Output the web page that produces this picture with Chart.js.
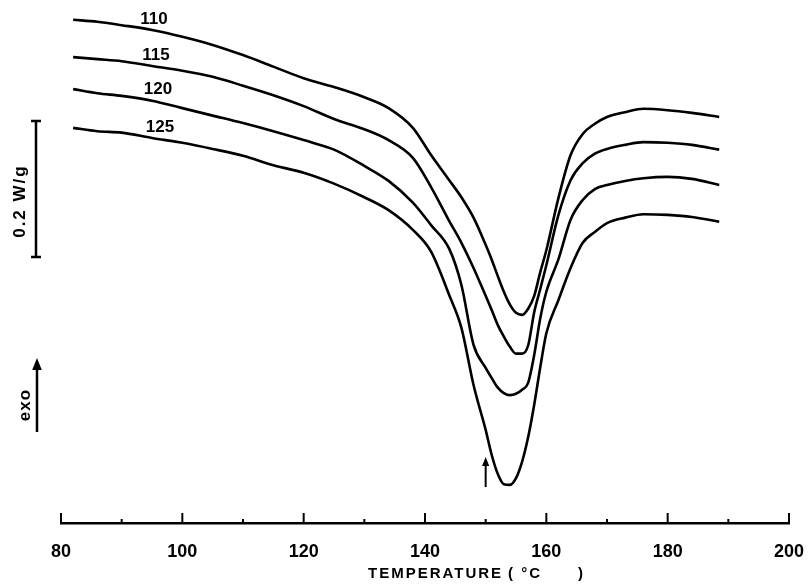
<!DOCTYPE html>
<html>
<head>
<meta charset="utf-8">
<script src="https://cdn.jsdelivr.net/npm/chart.js@4.4.1/dist/chart.umd.min.js"></script>
<style>
  html, body { margin: 0; padding: 0; background: #fff; }
</style>
</head>
<body>
<canvas id="dsc" width="809" height="585"></canvas>
<script>
// DSC melting traces, samples crystallised at 110 / 115 / 120 / 125 °C
const temps = [82, 86, 90, 95, 100, 105, 110, 115, 120, 125, 130, 134, 138, 141, 144, 146, 148,
  150, 151, 152, 153, 154, 155, 156, 157, 158, 159, 160, 162, 164, 166, 168, 170, 173, 176, 180, 184, 188.5];

const curveNames = ['110', '115', '120', '125'];

// heat flow in W/g (traces shifted vertically, as in the figure)
const flow110 = [0.740, 0.737, 0.732, 0.725, 0.715, 0.703, 0.688, 0.671, 0.654, 0.641, 0.626, 0.610, 0.581,
  0.541, 0.504, 0.479, 0.449, 0.409, 0.387, 0.363, 0.340, 0.321, 0.309, 0.306, 0.315, 0.334, 0.369, 0.401,
  0.478, 0.541, 0.572, 0.587, 0.597, 0.604, 0.609, 0.607, 0.603, 0.597];
const flow115 = [0.685, 0.682, 0.679, 0.672, 0.665, 0.656, 0.643, 0.629, 0.613, 0.594, 0.579, 0.563, 0.537,
  0.494, 0.444, 0.412, 0.375, 0.334, 0.313, 0.291, 0.274, 0.259, 0.249, 0.249, 0.261, 0.310, 0.344, 0.379,
  0.453, 0.504, 0.529, 0.543, 0.550, 0.556, 0.560, 0.559, 0.556, 0.549];
const flow120 = [0.638, 0.632, 0.628, 0.621, 0.610, 0.599, 0.588, 0.576, 0.563, 0.549, 0.525, 0.503, 0.471,
  0.438, 0.403, 0.350, 0.262, 0.228, 0.213, 0.199, 0.191, 0.188, 0.190, 0.196, 0.206, 0.247, 0.301, 0.340,
  0.388, 0.446, 0.475, 0.491, 0.497, 0.503, 0.507, 0.509, 0.506, 0.497];
const flow125 = [0.581, 0.576, 0.574, 0.566, 0.559, 0.550, 0.540, 0.526, 0.515, 0.499, 0.479, 0.460, 0.431,
  0.399, 0.335, 0.287, 0.203, 0.137, 0.100, 0.072, 0.057, 0.056, 0.066, 0.090, 0.126, 0.174, 0.229, 0.279,
  0.328, 0.375, 0.412, 0.428, 0.441, 0.449, 0.454, 0.453, 0.450, 0.443];

const tempTicks = [80, 100, 120, 140, 160, 180, 200];
const scaleBarFrom = 0.391;   // W/g, lower end of the 0.2 W/g bar
const scaleBarSize = 0.2;
const peakMark = 150;         // °C, small arrow under the 125 trace

const FONT = '"Liberation Sans", Arial, sans-serif';

function arrowUp(ctx, x, yTop, yBottom, head) {
  ctx.beginPath();
  ctx.moveTo(x, yBottom);
  ctx.lineTo(x, yTop + head);
  ctx.stroke();
  ctx.beginPath();
  ctx.moveTo(x, yTop);
  ctx.lineTo(x - head * 0.4, yTop + head);
  ctx.lineTo(x + head * 0.4, yTop + head);
  ctx.closePath();
  ctx.fill();
}

const decorations = {
  id: 'decorations',
  afterDraw(chart) {
    const ctx = chart.ctx;
    const xs = chart.scales.x, ys = chart.scales.y, area = chart.chartArea;
    ctx.save();
    ctx.strokeStyle = '#000';
    ctx.fillStyle = '#000';

    // tick marks standing up from the axis line
    ctx.lineWidth = 2;
    xs.ticks.forEach(t => {
      const px = xs.getPixelForValue(t.value);
      const len = t.value % 20 === 0 ? 10 : 4;
      ctx.beginPath();
      ctx.moveTo(px, area.bottom);
      ctx.lineTo(px, area.bottom - len);
      ctx.stroke();
    });

    // axis title
    ctx.font = 'bold 15px ' + FONT;
    ctx.letterSpacing = '2px';
    ctx.textBaseline = 'middle';
    ctx.textAlign = 'left';
    ctx.fillText('TEMPERATURE', area.left + 307, area.bottom + 51);
    ctx.fillText('( °C', area.left + 447, area.bottom + 51);
    ctx.fillText(')', area.left + 517, area.bottom + 51);

    // 0.2 W/g scale bar
    const bx = area.left - 25;
    const bTop = ys.getPixelForValue(scaleBarFrom + scaleBarSize);
    const bBot = ys.getPixelForValue(scaleBarFrom);
    ctx.lineWidth = 2.5;
    ctx.beginPath();
    ctx.moveTo(bx, bTop); ctx.lineTo(bx, bBot);
    ctx.moveTo(bx - 5, bTop); ctx.lineTo(bx + 5, bTop);
    ctx.moveTo(bx - 5, bBot); ctx.lineTo(bx + 5, bBot);
    ctx.stroke();

    ctx.font = 'bold 17px ' + FONT;
    ctx.textAlign = 'center';
    ctx.save();
    ctx.translate(area.left - 41, (bTop + bBot) / 2 + 12);
    ctx.rotate(-Math.PI / 2);
    ctx.fillText('0.2 W/g', 0, 0);
    ctx.restore();

    // exo arrow
    ctx.lineWidth = 2.5;
    arrowUp(ctx, area.left - 24, area.bottom - 165, area.bottom - 91, 12);
    ctx.letterSpacing = '1px';
    ctx.save();
    ctx.translate(area.left - 36, area.bottom - 118);
    ctx.rotate(-Math.PI / 2);
    ctx.fillText('exo', 0, 0);
    ctx.restore();

    // small arrow at the 125 trace minimum
    ctx.lineWidth = 2;
    arrowUp(ctx, xs.getPixelForValue(peakMark), area.bottom - 66, area.bottom - 36, 9);

    // curve labels, sitting on each trace near 95 °C
    ctx.letterSpacing = '0px';
    ctx.font = 'bold 17px ' + FONT;
    chart.data.datasets.forEach((ds, i) => {
      const pt = chart.getDatasetMeta(i).data[3];
      ctx.fillText(ds.label, pt.x + 2 + i * 2, pt.y - 11);
    });
    ctx.restore();
  }
};

const whiteBg = {
  id: 'whiteBg',
  beforeDraw(chart) {
    const ctx = chart.ctx;
    ctx.save();
    ctx.fillStyle = '#fff';
    ctx.fillRect(0, 0, chart.width, chart.height);
    ctx.restore();
  }
};

const series = [flow110, flow115, flow120, flow125];

new Chart(document.getElementById('dsc'), {
  type: 'line',
  data: {
    labels: temps,
    datasets: series.map((vals, i) => ({
      label: curveNames[i],
      data: temps.map((t, k) => ({ x: t, y: vals[k] })),
      borderColor: '#000',
      borderWidth: 2.6,
      pointRadius: 0,
      fill: false,
      cubicInterpolationMode: 'monotone'
    }))
  },
  options: {
    responsive: false,
    animation: false,
    layout: { padding: { left: 61, right: 20, top: 0, bottom: 0 } },
    plugins: {
      legend: { display: false },
      tooltip: { enabled: false }
    },
    scales: {
      x: {
        type: 'linear',
        min: 80,
        max: 200,
        afterFit(scale) {
          scale.height = 62;
          scale.paddingLeft = 0;
          scale.paddingRight = 0;
        },
        grid: { display: false, drawTicks: false },
        border: { display: true, color: '#000', width: 2.5 },
        ticks: {
          stepSize: 10,
          autoSkip: false,
          maxRotation: 0,
          padding: 18,
          color: '#000',
          font: { family: FONT, size: 18, weight: 'bold' },
          callback: v => (tempTicks.includes(v) ? v : '')
        }
      },
      y: {
        display: false,
        min: 0,
        max: 0.769
      }
    }
  },
  plugins: [whiteBg, decorations]
});
</script>
</body>
</html>
